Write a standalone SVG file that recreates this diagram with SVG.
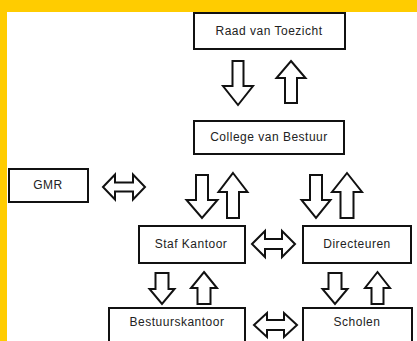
<svg xmlns="http://www.w3.org/2000/svg" width="417" height="341" viewBox="0 0 417 341">
<style>
.box{fill:#fff;stroke:#111;stroke-width:2}
.lbl{font-family:"Liberation Sans",Arial,sans-serif;font-size:12px;letter-spacing:0.5px;fill:#222;text-anchor:middle}
.arr{fill:#fff;stroke:#111;stroke-width:2;stroke-linejoin:miter}
</style>
<rect x="0" y="0" width="417" height="341" fill="#fff"/>
<rect x="0" y="0" width="417" height="12" fill="#FFCC00"/>
<rect x="0" y="0" width="7" height="341" fill="#FFCC00"/>
<g id="raad"><rect class="box" x="194" y="13" width="151" height="36"/><text class="lbl" x="269" y="35">Raad van Toezicht</text></g>
<g id="college"><rect class="box" x="194" y="121" width="150" height="33"/><text class="lbl" x="269" y="141">College van Bestuur</text></g>
<g id="gmr"><rect class="box" x="9" y="169" width="79" height="33"/><text class="lbl" x="48" y="189">GMR</text></g>
<g id="staf"><rect class="box" x="139" y="226" width="106" height="37"/><text class="lbl" x="191" y="248">Staf Kantoor</text></g>
<g id="directeuren"><rect class="box" x="303" y="226" width="108" height="37"/><text class="lbl" x="357" y="248">Directeuren</text></g>
<g id="bestuurskantoor"><rect class="box" x="109" y="308" width="136" height="50"/><text class="lbl" x="177" y="326">Bestuurskantoor</text></g>
<g id="scholen"><rect class="box" x="303" y="308" width="109" height="50"/><text class="lbl" x="357" y="326">Scholen</text></g>
<g id="connectors">
<!-- Raad <-> College -->
<path class="arr" d="M232.5,61 H243.5 V86 H253 L238,105 L223,86 H232.5 Z"/>
<path class="arr" d="M291,61 L305.5,78 H297 V103 H285 V78 H276.5 Z"/>
<!-- College -> Staf -->
<path class="arr" d="M196,175 H208 V200 H217.5 L202,218 L186.5,200 H196 Z"/>
<path class="arr" d="M233,173 L247.5,192 H239 V218 H227 V192 H218.5 Z"/>
<!-- College -> Directeuren -->
<path class="arr" d="M310,175 H322 V200 H330.5 L316,218 L301.5,200 H310 Z"/>
<path class="arr" d="M347,173 L362,192 H353.5 V218 H340.5 V192 H332 Z"/>
<!-- Staf -> Bestuurskantoor -->
<path class="arr" d="M155.5,273 H168.5 V289 H174.5 L162,304 L149.5,289 H155.5 Z"/>
<path class="arr" d="M204,272 L217,288 H210.5 V304 H197.5 V288 H191 Z"/>
<!-- Directeuren -> Scholen -->
<path class="arr" d="M328.5,273 H341.5 V289 H347.5 L335,304 L322.5,289 H328.5 Z"/>
<path class="arr" d="M377.5,272 L390,288 H383.5 V304 H371.5 V288 H365 Z"/>
<!-- horizontal double arrows -->
<path class="arr" d="M103,187 L115,174.5 V182.5 H133 V174.5 L145,187 L133,199.5 V191.5 H115 V199.5 Z"/>
<path class="arr" d="M252,244 L265,231 V239 H282 V231 L295,244 L282,257 V249 H265 V257 Z"/>
<path class="arr" d="M254,325 L267,313 V320 H284 V313 L297,325 L284,337 V330 H267 V337 Z"/>
</g>
</svg>
